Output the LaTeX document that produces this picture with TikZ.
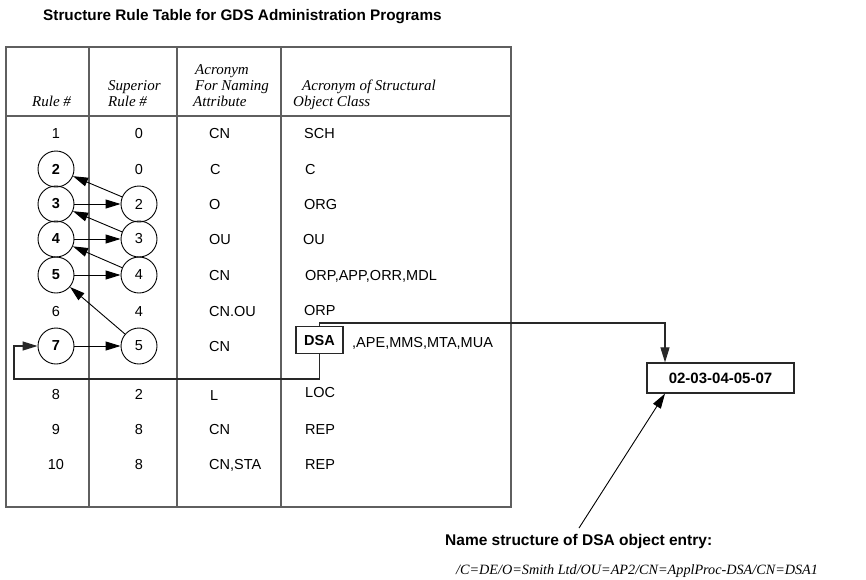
\documentclass[tikz,border=0pt]{standalone}
\usepackage{fontspec}
\setmainfont{Liberation Sans}
\newfontfamily\hdrserif{Liberation Serif}
\usetikzlibrary{arrows.meta}
\definecolor{rulegray}{RGB}{95,95,95}
\definecolor{inkgray}{RGB}{40,40,40}
\begin{document}
\begin{tikzpicture}[x=1pt,y=-1pt,
  rulestroke/.style={draw=rulegray,line width=1.4pt},
  cell/.style={inner sep=0pt,font=\fontsize{14.5}{17}\selectfont,text height=10.4pt,text depth=0pt},
  lcell/.style={cell,anchor=west},
  hdr/.style={inner sep=0pt,anchor=base west,font=\hdrserif\itshape\fontsize{15}{16}\selectfont},
  rulecirc/.style={circle,draw,line width=0.9pt,minimum size=36pt,inner sep=0pt,font=\fontsize{14.5}{17}\selectfont},
  ownrule/.style={rulecirc,font=\bfseries\fontsize{14.5}{17}\selectfont},
  tipshape/.style={-{Triangle[length=15pt,width=9pt]}},
  link/.style={draw,line width=0.9pt,tipshape},
  feed/.style={draw=inkgray,line width=1.1pt},
  tagbox/.style={draw=inkgray,line width=1.2pt,inner sep=0pt,text height=10.4pt,text depth=0pt,font=\bfseries\fontsize{14.5}{17}\selectfont}
]
\useasboundingbox[fill=white] (0,0) rectangle (866,579);

% title
\node[inner sep=0pt,anchor=base west,font=\bfseries\fontsize{15.3}{18}\selectfont] (title) at (43,20.7)
  {Structure Rule Table for GDS Administration Programs};

% table frame
\draw[rulestroke] (6,47) rectangle (511,507);
\draw[rulestroke] (6,116) -- (511,116);
\foreach \x in {89,177,281} \draw[rulestroke] (\x,47) -- (\x,507);

% column headings
\node[hdr] (h1)  at (32,106)   {Rule \#};
\node[hdr] (h2a) at (108,90.7) {Superior};
\node[hdr] (h2b) at (108,106)  {Rule \#};
\node[hdr] (h3a) at (195,74)   {Acronym};
\node[hdr] (h3b) at (195,90.7) {For Naming};
\node[hdr] (h3c) at (193,106)  {Attribute};
\node[hdr] (h4a) at (302,90.7) {Acronym of Structural};
\node[hdr] (h4b) at (293,106)  {Object Class};

% plain table entries
\node[cell] (r1a) at (56,133) {1};
\node[cell] (r1b) at (139,133) {0};
\node[cell] (r2b) at (139,169) {0};
\node[cell] (r6a) at (56,311) {6};
\node[cell] (r6b) at (139,311) {4};
\node[cell] (r8a) at (56,394) {8};
\node[cell] (r8b) at (139,394) {2};
\node[cell] (r9a) at (56,429) {9};
\node[cell] (r9b) at (139,429) {8};
\node[cell] (r10a) at (56,464) {10};
\node[cell] (r10b) at (139,464) {8};

\node[lcell] (r1c) at (209,133) {CN};
\node[lcell] (r2c) at (210,169) {C};
\node[lcell] (r3c) at (209,204) {O};
\node[lcell] (r4c) at (209,239) {OU};
\node[lcell] (r5c) at (209,275) {CN};
\node[lcell] (r6c) at (209,311) {CN.OU};
\node[lcell] (r7c) at (209,346) {CN};
\node[lcell] (r8c) at (210,395) {L};
\node[lcell] (r9c) at (209,429) {CN};
\node[lcell] (r10c) at (209,464) {CN,STA};

\node[lcell] (r1d) at (304,133) {SCH};
\node[lcell] (r2d) at (305,169) {C};
\node[lcell] (r3d) at (304,204) {ORG};
\node[lcell] (r4d) at (303,239) {OU};
\node[lcell] (r5d) at (305,275) {ORP,APP,ORR,MDL};
\node[lcell] (r6d) at (304,310) {ORP};
\node[tagbox,minimum width=47pt,minimum height=27pt] (DSA) at (319.5,340) {DSA};
\node[lcell] (r7d) at (352,342) {,APE,MMS,MTA,MUA};
\node[lcell] (r8d) at (305,392) {LOC};
\node[lcell] (r9d) at (305,429) {REP};
\node[lcell] (r10d) at (305,464) {REP};

% rule circles
\node[ownrule] (L2) at (56,169) {2};
\node[ownrule] (L3) at (56,204) {3};
\node[ownrule] (L4) at (56,239) {4};
\node[ownrule] (L5) at (56,275) {5};
\node[ownrule] (L7) at (56,346) {7};
\node[rulecirc] (S2) at (139,204) {2};
\node[rulecirc] (S3) at (139,239) {3};
\node[rulecirc] (S4) at (139,275) {4};
\node[rulecirc] (S5) at (139,346) {5};

% superior chain
\draw[link] (S2) -- (L2);
\draw[link] (L3) -- (S2);
\draw[link] (S3) -- (L3);
\draw[link] (L4) -- (S3);
\draw[link] (S4) -- (L4);
\draw[link] (L5) -- (S4);
\draw[link] (S5) -- (L5);
\draw[link] (L7) -- (S5);

% resulting name
\node[tagbox,font=\bfseries\fontsize{15}{18}\selectfont,minimum width=147pt,minimum height=30pt] (res) at (720.5,378) {02-03-04-05-07};

\coordinate (lp) at (14,379);
\coordinate (tp) at (665,323);
\coordinate (ns) at (579,528);

\draw[feed,tipshape] (DSA.south) |- (lp) |- (L7.west);
\draw[feed,tipshape] (DSA.north) |- (tp) -- (tp |- res.north);
\draw[link] (ns) -- (tp |- res.south);

\node[inner sep=0pt,anchor=base west,font=\bfseries\fontsize{15.5}{18}\selectfont] (nslabel) at (445,545)
  {Name structure of DSA object entry:};
\node[inner sep=0pt,anchor=base west,font=\hdrserif\itshape\fontsize{14.2}{17}\selectfont] (nsvalue) at (456,574.5)
  {/C=DE/O=Smith Ltd/OU=AP2/CN=ApplProc-DSA/CN=DSA1};
\end{tikzpicture}
\end{document}
